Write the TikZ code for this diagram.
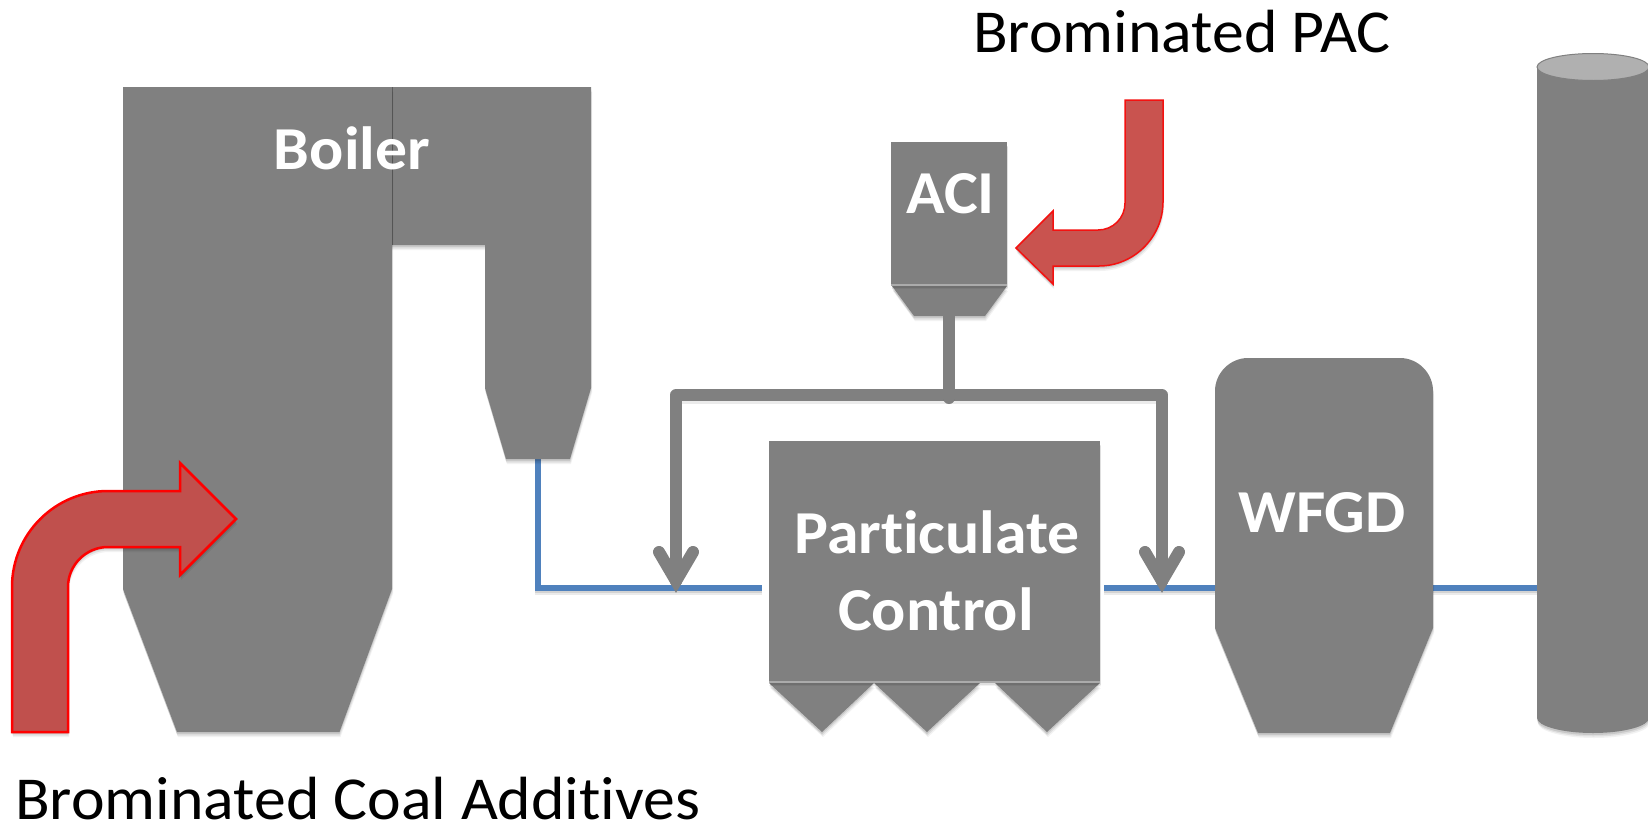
\documentclass[tikz,border=0pt]{standalone}
\usepackage{fontspec}
\setmainfont{Carlito}
\newfontfamily\wideface[FakeStretch=1.045,Ligatures=NoCommon]{Carlito}
\tikzset{
  softshadow/.style={
    preaction={fill=black,fill opacity=.05,transform canvas={xshift=1pt,yshift=-5pt}},
    preaction={fill=black,fill opacity=.08,transform canvas={xshift=.5pt,yshift=-3.5pt}},
    preaction={fill=black,fill opacity=.10,transform canvas={yshift=-2pt}}},
  unit/.style={fill=unitgray,draw=none,softshadow},
  unitnode/.style={rectangle,inner sep=0pt,fill=unitgray,draw=none,softshadow},
  sep/.style={draw=sepgray,line width=2.5pt},
  flue/.style={draw=flueblue,line width=5.5pt,preaction={draw=black,draw opacity=.08,line width=5.5pt,transform canvas={yshift=-4pt}},preaction={draw=black,draw opacity=.10,line width=5.5pt,transform canvas={yshift=-2pt}}},
  pipe/.style={draw=pipegray,line width=12pt,line join=round,line cap=round,preaction={draw=black,draw opacity=.08,line width=12pt,transform canvas={yshift=-3pt}}},
  tipline/.style={draw=pipegray,line width=12pt,line join=miter,miter limit=10,line cap=round},
  bentleft/.style={fill=addfill,draw=red,line width=2.5pt,line join=miter,softshadow},
  bentright/.style={fill=addfill2,draw=red!80!addfill2,line width=1.5pt,line join=miter,softshadow},
  unitlabel/.style={text=white,font=\wideface\fontsize{61}{61}\selectfont\bfseries,anchor=base,inner sep=0pt},
  caption/.style={text=black,font=\wideface\fontsize{61}{61}\selectfont,anchor=base west,inner sep=0pt}
}
\definecolor{unitgray}{HTML}{808080}
\definecolor{sepgray}{HTML}{ABABAB}
\definecolor{pipegray}{HTML}{808080}
\definecolor{capgray}{HTML}{B0B0B0}
\definecolor{flueblue}{HTML}{4F81BD}
\definecolor{addfill}{HTML}{C0504D}
\definecolor{addfill2}{HTML}{C9534F}
\begin{document}
\begin{tikzpicture}[x=1pt,y=-1pt]
\clip (0,0) rectangle (1648,825);
\fill[white] (0,0) rectangle (1648,825);

% named connection points
\coordinate (boilerout) at (538,459);
\coordinate (pcinL) at (762,588);
\coordinate (pcoutR) at (1104,588);
\coordinate (wfgdin) at (1220,588);
\coordinate (wfgdout) at (1428,588);
\coordinate (stackin) at (1542,588);
\coordinate (acibottom) at (949,316);
\coordinate (acijoin) at (949,398);
\coordinate (dropL) at (676,581);
\coordinate (dropR) at (1162,581);

% flue gas lines
\draw[flue] (boilerout) |- (pcinL);
\draw[flue] (pcoutR) -- (wfgdin);
\draw[flue] (wfgdout) -- (stackin);

% boiler
\path[unit] (391,87) -- (591,87) -- (591,388) -- (570,459) -- (506,459) -- (485,388) -- (485,245) -- (391,245) -- cycle;
\path[unit] (123,87) -- (392,87) -- (392,589) -- (339.5,732) -- (177,732) -- (123,589) -- cycle;
\draw[draw=black!55!unitgray,line width=1pt,opacity=.5] (392,87) -- (392,245);
\node[unitlabel] (boiler) at (352,169) {Boiler};

% ACI
\path[unit] (892,286) -- (1007,286) -- (985,316) -- (914,316) -- cycle;
\node[unitnode,minimum width=116pt,minimum height=142pt] (aci) at (949,213) {};
\draw[sep] (891,285) -- (1007,285);
\node[unitlabel] (acitext) at (950.5,213) {ACI};

% sorbent pipes
\draw[pipe] (dropL) -- (676,395) -- (1162,395) -- (dropR);
\draw[pipe] (acibottom) -- (acijoin);
\draw[tipline] (659,552) -- (dropL) -- (693,552);
\draw[tipline] (1145,552) -- (dropR) -- (1179,552);

% particulate control
\path[unit] (769,683) -- (874,683) -- (822,732) -- cycle;
\path[unit] (874,683) -- (980,683) -- (927,732) -- cycle;
\path[unit] (995,683) -- (1100,683) -- (1047,732) -- cycle;
\node[unitnode,minimum width=331pt,minimum height=240pt] (pc) at (934.5,561) {};
\draw[sep] (769,682) -- (1100,682);
\node[unitlabel] (pctext1) at (937,553) {Particulate};
\node[unitlabel] (pctext2) at (936,630) {Control};

% WFGD
\path[unit] (1215,391) .. controls (1215,373) and (1230,358) .. (1248,358) -- (1400,358) .. controls (1418,358) and (1433,373) .. (1433,391) -- (1433,628) -- (1390,733) -- (1258,733) -- (1215,628) -- cycle;
\node[unitlabel] (wfgdtext) at (1322,532) {WFGD};

% stack
\path[unit] (1537,67) -- (1537,718) .. controls (1537,726) and (1562,733) .. (1593,733) .. controls (1624,733) and (1649,726) .. (1649,718) -- (1649,67) -- cycle;
\draw[fill=capgray,draw=unitgray,line width=1pt] (1593,67) ellipse[x radius=56,y radius=13.5];

% additive arrows
\path[bentleft] (12,732) -- (12,587) .. controls (12,534) and (55,491) .. (108,491) -- (180,491) -- (180,463) -- (236,519) -- (180,575) -- (180,547) -- (108,547) .. controls (86,547) and (68,565) .. (68,587) -- (68,732) -- cycle;
\path[bentright] (1125,100) -- (1163,100) -- (1163,202) .. controls (1163,237) and (1134,266) .. (1099,266) -- (1053,266) -- (1053,284) -- (1016,248) -- (1053,211) -- (1053,230) -- (1098,230) .. controls (1113,230) and (1125,218) .. (1125,203) -- cycle;

% captions
\node[caption] (pac) at (973,52.5) {Brominated PAC};
\node[caption] (coal) at (15,819.5) {Brominated Coal Additives};
\end{tikzpicture}
\end{document}
